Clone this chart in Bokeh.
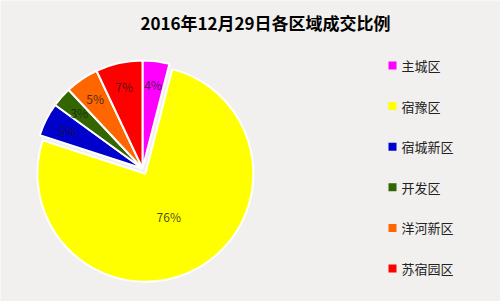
import math
from bokeh.plotting import figure
from bokeh.models import Range1d
from bokeh.core.properties import value
from bokeh.embed import file_html
from bokeh.resources import INLINE

# Share of transactions by district, 2016-12-29
districts = ["主城区", "宿豫区", "宿城新区", "开发区", "洋河新区", "苏宿园区"]
shares = [4, 76, 5, 3, 5, 7]
colors = ["#ff00ff", "#ffff00", "#0000cc", "#336600", "#ff6600", "#ff0000"]
title_text = "2016年12月29日各区域成交比例"

W, H = 500, 301
FONT = "Noto Sans CJK SC"

p = figure(width=W, height=H, output_backend="svg", toolbar_location=None,
           x_range=Range1d(0, W), y_range=Range1d(0, H),
           min_border=0, match_aspect=False)
p.axis.visible = False
p.grid.visible = False
p.outline_line_color = None
p.background_fill_color = "#f1f0ee"
p.border_fill_color = "#f1f0ee"

# pie geometry in pixel coordinates (y measured upward)
cx, cy, R = 142, H - 168, 108
explode = {1: 6}          # pull the big slice away from the centre
label_frac = {1: 0.45}    # label distance as a fraction of the radius

total = float(sum(shares))
cum = 0.0
xs, ys, starts, ends, lx, ly, labels = [], [], [], [], [], [], []
for i, s in enumerate(shares):
    a0 = math.pi / 2 - 2 * math.pi * cum / total
    a1 = math.pi / 2 - 2 * math.pi * (cum + s) / total
    mid = (a0 + a1) / 2
    off = explode.get(i, 0)
    x0 = cx + off * math.cos(mid)
    y0 = cy + off * math.sin(mid)
    xs.append(x0); ys.append(y0); starts.append(a0); ends.append(a1)
    f = label_frac.get(i, 0.78)
    lx.append(x0 + f * R * math.cos(mid))
    ly.append(y0 + f * R * math.sin(mid))
    labels.append(f"{s}%")
    cum += s

p.wedge(x=xs, y=ys, radius=R, start_angle=starts, end_angle=ends,
        direction="clock", fill_color=colors, line_color="white", line_width=2)

p.text(x=lx, y=ly, text=labels, text_font=value(FONT), text_font_size="12px",
       text_color="#1a1a1a", text_alpha=0.8, text_align="center",
       text_baseline="middle")

# title
p.text(x=[265], y=[H - 22], text=[title_text], text_font=value(FONT),
       text_font_size="17px", text_font_style="bold", text_color="#000000",
       text_align="center", text_baseline="middle")

# legend
leg_x, leg_y0, leg_dy = 392, H - 65, 40.6
leg_ys = [leg_y0 - k * leg_dy for k in range(len(districts))]
p.rect(x=[leg_x] * len(districts), y=leg_ys, width=8, height=8,
       fill_color=colors, line_color=None)
p.text(x=[leg_x + 9] * len(districts), y=leg_ys, text=districts,
       text_font=value(FONT), text_font_size="13px", text_color="#222222",
       text_align="left", text_baseline="middle")

open("out.html", "w").write(file_html(p, INLINE))
